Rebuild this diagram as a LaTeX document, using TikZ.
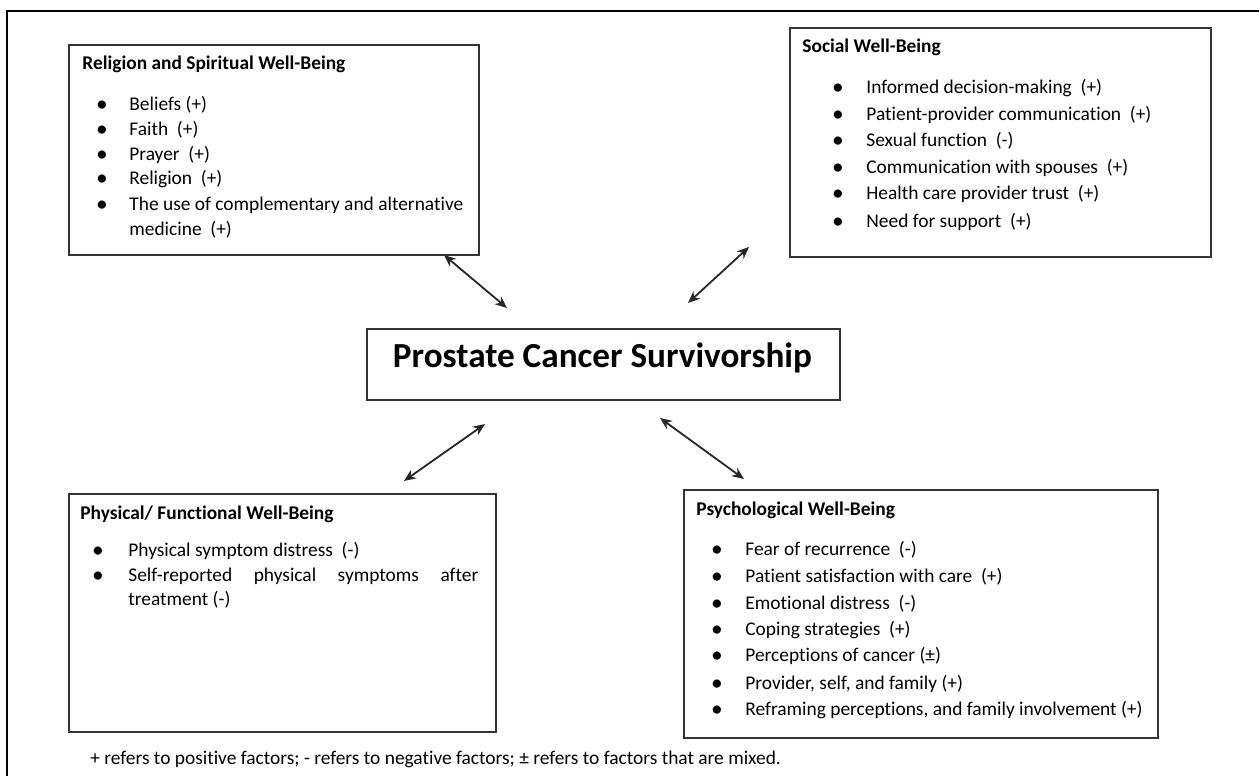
\documentclass[tikz,border=0pt]{standalone}
\usepackage{fontspec}
\setmainfont{Carlito}[Ligatures=NoCommon]
\usetikzlibrary{arrows.meta}
\begin{document}
\begin{tikzpicture}[x=0.5pt,y=-0.5pt,
  box/.style={draw=black!80, line width=1pt, anchor=north west, inner sep=0pt},
  boxtitle/.style={anchor=base west, inner sep=0pt, font=\fontsize{9.7}{12}\selectfont\bfseries},
  item/.style={anchor=base west, inner sep=0pt, font=\fontsize{9.7}{12.5}\selectfont},
  dot/.style={anchor=base, inner sep=0pt, font=\fontsize{9.7}{12}\selectfont\bfseries},
  link/.style={line width=0.9pt, draw=black!85, {Stealth[length=6pt,width=5pt]}-{Stealth[length=6pt,width=5pt]}}
]
\useasboundingbox (0,0) rectangle (1259,776);
% frame
\draw[line width=0.8pt] (7,776) -- (7,11) -- (1259,11);

% center
\node[box, minimum width=236.5pt, minimum height=35.5pt] (center) at (366,328) {};
\node[anchor=base, inner sep=0pt, font=\fontsize{17.6}{20}\selectfont\bfseries] (ctext) at (602.5,367) {Prostate Cancer Survivorship};

% religion box
\node[box, minimum width=205pt, minimum height=105pt] (rel) at (68,44) {};
\node[boxtitle] (relt) at (82,69.5) {Religion and Spiritual Well-Being};
\node[dot] (r1b) at (102,110) {•}; \node[item] (r1) at (129,110) {Beliefs (+)};
\node[dot] (r2b) at (102,135) {•}; \node[item] (r2) at (129,135) {Faith\ \ (+)};
\node[dot] (r3b) at (102,160) {•}; \node[item] (r3) at (129,160) {Prayer\ \ (+)};
\node[dot] (r4b) at (102,184) {•}; \node[item] (r4) at (129,184) {Religion\ \ (+)};
\node[dot] (r5b) at (102,210) {•}; \node[item] (r5) at (129,210) {The use of complementary and alternative};
\node[item] (r5c) at (129,235) {medicine\ \ (+)};

% social box
\node[box, minimum width=210.5pt, minimum height=114.5pt] (soc) at (789,27) {};
\node[boxtitle] (soct) at (802,53) {Social Well-Being};
\node[dot] (s1b) at (838,93) {•}; \node[item] (s1) at (866,93) {Informed decision-making\ \ (+)};
\node[dot] (s2b) at (838,120) {•}; \node[item] (s2) at (866,120) {Patient-provider communication\ \ (+)};
\node[dot] (s3b) at (838,146) {•}; \node[item] (s3) at (866,146) {Sexual function\ \ (-)};
\node[dot] (s4b) at (838,173) {•}; \node[item] (s4) at (866,173) {Communication with spouses\ \ (+)};
\node[dot] (s5b) at (838,199) {•}; \node[item] (s5) at (866,199) {Health care provider trust\ \ (+)};
\node[dot] (s6b) at (838,227) {•}; \node[item] (s6) at (866,227) {Need for support\ \ (+)};

% physical box
\node[box, minimum width=213.5pt, minimum height=119pt] (phy) at (68,493) {};
\node[boxtitle] (phyt) at (80,519) {Physical/ Functional Well-Being};
\node[dot] (p1b) at (98,556) {•}; \node[item] (p1) at (128,556) {Physical symptom distress\ \ (-)};
\node[dot] (p2b) at (98,581) {•}; \node[item] (p2) at (128,581) {\hbox to 175pt{Self-reported\hfill physical\hfill symptoms\hfill after}};
\node[item] (p2c) at (128,605) {treatment (-)};

% psychological box
\node[box, minimum width=237pt, minimum height=124pt] (psy) at (683,489) {};
\node[boxtitle] (psyt) at (696,515) {Psychological Well-Being};
\node[dot] (q1b) at (717,555) {•}; \node[item] (q1) at (745,555) {Fear of recurrence\ \ (-)};
\node[dot] (q2b) at (717,582) {•}; \node[item] (q2) at (745,582) {Patient satisfaction with care\ \ (+)};
\node[dot] (q3b) at (717,609) {•}; \node[item] (q3) at (745,609) {Emotional distress\ \ (-)};
\node[dot] (q4b) at (717,635) {•}; \node[item] (q4) at (745,635) {Coping strategies\ \ (+)};
\node[dot] (q5b) at (717,661) {•}; \node[item] (q5) at (745,661) {Perceptions of cancer (±)};
\node[dot] (q6b) at (717,689) {•}; \node[item] (q6) at (745,689) {Provider, self, and family (+)};
\node[dot] (q7b) at (717,715) {•}; \node[item] (q7) at (745,715) {Reframing perceptions, and family involvement (+)};

% footnote
\node[item] (foot) at (90,764) {+ refers to positive factors; - refers to negative factors; ± refers to factors that are mixed.};

% arrows
\coordinate (a1s) at (444,255); \coordinate (a1e) at (507,308);
\coordinate (a2s) at (749,247); \coordinate (a2e) at (688,303);
\coordinate (a3s) at (485,424); \coordinate (a3e) at (404,481);
\coordinate (a4s) at (660,418); \coordinate (a4e) at (744,479);
\draw[link] (a1s) -- (a1e);
\draw[link] (a2s) -- (a2e);
\draw[link] (a3s) -- (a3e);
\draw[link] (a4s) -- (a4e);
\end{tikzpicture}
\end{document}
